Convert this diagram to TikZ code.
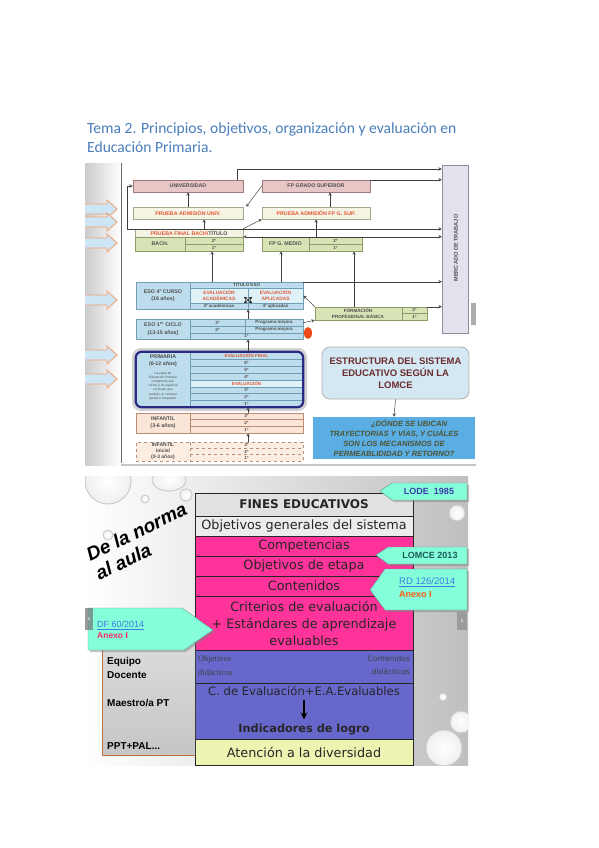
\documentclass[tikz,border=0pt]{standalone}
\usepackage{fontspec}
\setsansfont{Liberation Sans}
\newfontfamily\calibri{Carlito}
\newfontfamily\verdana{DejaVu Sans}
\newfontfamily\serifa{Liberation Serif}
\newcommand{\mini}{\sffamily\bfseries\fontsize{5.3}{6}\selectfont}
\newcommand{\micro}{\sffamily\bfseries\fontsize{4.5}{5}\selectfont}
\definecolor{titulo}{HTML}{4A7EBC}
\definecolor{rosa}{HTML}{E8C6C6}\definecolor{rosab}{HTML}{A07A7A}
\definecolor{crema}{HTML}{F5F3E4}\definecolor{cremab}{HTML}{A8A890}
\definecolor{oliva}{HTML}{D8E3B6}\definecolor{olivab}{HTML}{8C9A6C}
\definecolor{celeste}{HTML}{BDDDEC}\definecolor{celb}{HTML}{6F9DB4}
\definecolor{celclaro}{HTML}{DFF0F7}
\definecolor{melocoton}{HTML}{FBE5D6}\definecolor{melb}{HTML}{B98E74}
\definecolor{lavanda}{HTML}{E3E1EC}\definecolor{lavb}{HTML}{8E8C9E}
\definecolor{grisostxt}{HTML}{505050}\definecolor{rojotxt}{HTML}{E25A35}
\definecolor{marino}{HTML}{2A2A84}
\definecolor{estructura}{HTML}{D3E8F3}\definecolor{granate}{HTML}{6A2C2C}
\definecolor{azulpreg}{HTML}{5BAEE3}\definecolor{olivatxt}{HTML}{4E5434}
\definecolor{celflecha}{HTML}{CDE6F6}\definecolor{naranjaflecha}{HTML}{F2A070}
\definecolor{rojoelipse}{HTML}{EE4A1C}
\definecolor{grisfin}{HTML}{E1E1E1}\definecolor{grisobj}{HTML}{ECECEC}
\definecolor{fucsia}{HTML}{FF3399}\definecolor{azulcd}{HTML}{6767CC}
\definecolor{amarillo}{HTML}{EDF4B1}\definecolor{aguamar}{HTML}{85FFD9}
\definecolor{azullode}{HTML}{3B3BAA}\definecolor{verdelomce}{HTML}{1D5A5A}
\definecolor{azulenl}{HTML}{3F7BE0}\definecolor{naranja}{HTML}{FF5A14}
\definecolor{rosaenl}{HTML}{FF2A6A}\definecolor{marronpanel}{HTML}{C0703C}
\begin{document}
\begin{tikzpicture}[x=1pt,y=-1pt,>=stealth,
  caja/.style={draw=#1,line width=0.5pt,inner sep=0pt},
  flecha/.style={->,line width=0.5pt,draw=black!75},
  txt/.style={inner sep=0pt,font=\mini,text=grisostxt},
  txtr/.style={inner sep=0pt,font=\mini,text=rojotxt},
  fila/.style={inner sep=0pt,font=\micro,text=grisostxt},
  filar/.style={inner sep=0pt,font=\micro,text=rojotxt},
  nube/.style={fill=aguamar,draw=aguamar!60!black,line width=0.3pt},
  sombra/.style={fill=black!50,opacity=0.45},
  franja/.style={draw=black!85,line width=0.7pt,minimum width=218,inner sep=0pt,
    font=\verdana\fontsize{12.8}{15}\selectfont,text=black!85},
  gota/.style={draw=gray!40,line width=1pt,inner color=white,outer color=gray!12}]
\fill[white] (0,0) rectangle (599,848);
\useasboundingbox (0,0) rectangle (599,848);
% título
\node[anchor=base west,inner sep=0pt,font=\calibri\fontsize{15.6}{19}\selectfont,text=titulo] (tit1) at (87,133) {Tema 2. Principios, objetivos, organización y evaluación en};
\node[anchor=base west,inner sep=0pt,font=\calibri\fontsize{15.6}{19}\selectfont,text=titulo] (tit2) at (87,153) {Educación Primaria.};

% ---- imagen superior: estructura del sistema
\fill[white] (85,163) rectangle (476,467);
\shade[left color=gray!40,right color=white] (85,163) rectangle (121,465);
\draw[black!60,line width=0.8pt] (121,163) -- (121,463);
\draw[gray!45,line width=1.5pt] (121,465) -- (476,465);
\foreach \y in {209,222,243,300,355,379}
  \filldraw[fill=celflecha,draw=naranjaflecha,line width=0.8pt]
    (85,\y-5) -- (107,\y-5) -- (107,\y-9) -- (117,\y) -- (107,\y+9) -- (107,\y+5) -- (85,\y+5);

% universidad, FP superior y pruebas
\node[caja=rosab,fill=rosa,minimum width=110,minimum height=12,txt] (univ) at (188,186) {UNIVERSIDAD};
\node[caja=rosab,fill=rosa,minimum width=108,minimum height=12,txt] (fpgs) at (316,186) {FP GRADO SUPERIOR};
\node[caja=cremab,fill=crema,minimum width=110,minimum height=12,txtr] (padm) at (188,213) {PRUEBA ADMISIÓN UNIV.};
\node[caja=cremab,fill=crema,minimum width=108,minimum height=12,txtr] (padmfp) at (316,213) {PRUEBA ADMISIÓN FP G. SUP.};
\node[caja=cremab,fill=crema,minimum width=108,minimum height=8,txtr] (pfinal) at (189,233) {PRUEBA FINAL BACH/\textcolor{grisostxt}{TÍTULO}};
% bachillerato y FP medio
\node[caja=olivab,fill=oliva,minimum width=108,minimum height=14] (bach) at (189,244) {};
\draw[olivab,line width=0.5pt] (185,237) -- (185,251) (185,244) -- (243,244);
\node[txt] (bachT) at (160,244) {BACH.};
\node[fila] (bach2) at (214,240.5) {2º};
\node[fila] (bach1) at (214,247.5) {1º};
\node[caja=olivab,fill=oliva,minimum width=100,minimum height=14] (fpgm) at (312,244) {};
\draw[olivab,line width=0.5pt] (309,237) -- (309,251) (309,244) -- (362,244);
\node[txt] (fpgmT) at (285.5,244) {FP G. MEDIO};
\node[fila] (fpgm2) at (335.5,240.5) {2º};
\node[fila] (fpgm1) at (335.5,247.5) {1º};
% mercado de trabajo
\node[caja=lavb,fill=lavanda,minimum width=26,minimum height=168] (merc) at (455,249) {};
\node[rotate=90,txt,font=\sffamily\bfseries\fontsize{5.6}{6}\selectfont] (mercT) at (456,248) {MERCADO DE TRABAJO};
\fill[gray!65] (471,303) rectangle (476,325);

% ESO 4º
\node[caja=celb,fill=celeste,minimum width=167,minimum height=27] (eso4) at (219.5,295.5) {};
\fill[celclaro] (190.3,288.3) rectangle (302.7,302.7);
\draw[celb,line width=0.5pt] (190,282) -- (190,309) (190,288) -- (303,288) (190,303) -- (303,303) (248,288) -- (248,309);
\node[txt,align=center,font=\sffamily\bfseries\fontsize{5.3}{7}\selectfont] (eso4T) at (163,295.5) {ESO 4º CURSO\\(16 años)};
\node[fila] (titeso) at (246.5,285) {TÍTULO ESO};
\node[filar,align=center,font=\sffamily\bfseries\fontsize{4.8}{6}\selectfont] (evacad) at (219,295.5) {EVALUACIÓN\\ACADÉMICAS};
\node[filar,align=center,font=\sffamily\bfseries\fontsize{4.8}{6}\selectfont] (evapl) at (275.5,295.5) {EVALUACIÓN\\APLICADAS};
\node[fila] (acad) at (219,306) {4º académicas};
\node[fila] (apli) at (275.5,306) {4º aplicadas};
\draw[<->,line width=0.4pt] (244,297) -- (252,303);
\draw[<->,line width=0.4pt] (244,303) -- (252,297);
% ESO 1er ciclo
\node[caja=celb,fill=celeste,minimum width=167,minimum height=20] (eso1) at (219.5,329) {};
\draw[celb,line width=0.5pt] (190,319) -- (190,339) (190,326) -- (303,326) (190,333) -- (303,333) (245,319) -- (245,333);
\node[txt,align=center,font=\sffamily\bfseries\fontsize{5.3}{7.5}\selectfont] (eso1T) at (163,329) {ESO 1\textsuperscript{er} CICLO\\(13-15 años)};
\node[fila] (e3) at (217.5,322.5) {3º};
\node[fila] (pm3) at (274,322.5) {Programa mejora};
\node[fila] (e2) at (217.5,329.5) {2º};
\node[fila] (pm2) at (274,329.5) {Programa mejora};
\node[fila] (e1) at (246.5,336) {1º};
\fill[rojoelipse] (308,333) ellipse (4 and 6);
% FP básica
\node[caja=olivab,fill=oliva,minimum width=112,minimum height=13] (fpb) at (371,313.5) {};
\draw[olivab,line width=0.5pt] (402,307) -- (402,320) (402,313.5) -- (427,313.5);
\node[fila,align=center,font=\sffamily\bfseries\fontsize{4.6}{6.5}\selectfont] (fpbT) at (358,313.5) {FORMACIÓN\\PROFESIONAL BÁSICA};
\node[fila] (fpb2) at (414.5,310.3) {2º};
\node[fila] (fpb1) at (414.5,316.8) {1º};

% Primaria
\draw[gray!50,line width=4pt,rounded corners=7,opacity=0.7] (134,350) rectangle (305,409);
\node[caja=celb,fill=celeste,minimum width=167,minimum height=55,rounded corners=6] (prim) at (219.5,379.5) {};
\fill[celclaro] (190.3,380.3) rectangle (302,386.7);
\draw[celb,line width=0.5pt] (190,352) -- (190,407);
\foreach \y in {359,366,373,380,387,393.5,400}
  \draw[celb,line width=0.5pt] (190,\y) -- (303,\y);
\foreach \t/\y [count=\i] in {6º/362.5,5º/369.5,4º/376.5,3º/390.2,2º/396.7,1º/403.5}
  \node[fila] (curso\i) at (246.5,\y) {\t};
\node[filar] (evfin) at (246.5,355.5) {EVALUACIÓN FINAL};
\node[filar] (evprim) at (246.5,383.5) {EVALUACIÓN};
\node[txt,align=center,font=\sffamily\bfseries\fontsize{5.3}{7}\selectfont] (primT) at (163,360.5) {PRIMARIA\\(6-12 años)};
\node[fila,align=center,font=\sffamily\fontsize{3.2}{4.1}\selectfont] (primD) at (163,386) {La etapa de\\Educación Primaria\\comprende seis\\cursos y se organiza\\en áreas, que\\tendrán un carácter\\global e integrador};
\draw[marino,line width=2.2pt,rounded corners=6] (prim.north west) rectangle (prim.south east);
% Infantil
\node[caja=melb,fill=melocoton,minimum width=167,minimum height=20] (inf) at (219.5,423) {};
\draw[melb,line width=0.5pt] (190,413) -- (190,433) (190,419.7) -- (303,419.7) (190,426.3) -- (303,426.3);
\node[txt,align=center,font=\sffamily\bfseries\fontsize{5.3}{7}\selectfont] (infT) at (163,423) {INFANTIL\\(3-6 años)};
\foreach \t/\y [count=\i] in {3º/416.3,2º/423,1º/429.7}
  \node[fila] (inf\i) at (246.5,\y) {\t};
\node[caja=melb,dashed,fill=melocoton!70,minimum width=167,minimum height=19] (infini) at (219.5,451.5) {};
\draw[melb,dashed,line width=0.5pt] (190,442) -- (190,461) (190,448.3) -- (303,448.3) (190,454.7) -- (303,454.7);
\node[txt,align=center,font=\sffamily\bfseries\fontsize{5}{6}\selectfont] (infiniT) at (163,451.5) {INFANTIL\\inicial\\(0-3 años)};
\foreach \t/\y [count=\i] in {3º/445.2,2º/451.5,1º/457.8}
  \node[fila] (ini\i) at (246.5,\y) {\t};

% cuadro de título y pregunta
\node[draw=gray!60,fill=estructura,rounded corners=8,line width=0.8pt,minimum width=147,minimum height=52,align=center,
  font=\sffamily\bfseries\fontsize{9.5}{12}\selectfont,text=granate] (estr) at (395.5,373) {ESTRUCTURA DEL SISTEMA\\EDUCATIVO SEGÚN LA\\LOMCE};
\node[fill=azulpreg,minimum width=162,minimum height=42,align=center,inner sep=0pt,
  font=\sffamily\bfseries\itshape\fontsize{7.6}{10}\selectfont,text=olivatxt] (preg) at (394,438) {\hspace*{30pt}¿DÓNDE SE UBICAN\\TRAYECTORIAS Y VÍAS, Y CUÁLES\\SON LOS MECANISMOS DE\\PERMEABLIDIDAD Y RETORNO?};

% conexiones
\coordinate (lazo) at (127,229);
\draw[flecha] (lazo) |- (univ.west);
\draw[flecha] (lazo) -- (lazo -| merc.west);
\draw[flecha] (univ.north -| 237,0) |- (merc.west |- 0,169);
\draw[flecha] (fpgs.north east) -- (fpgs.north east -| merc.west);
\draw[flecha] (padm.north) -- (univ.south);
\draw[flecha] (fpgs.west) -- ([xshift=3pt]padm.north east);
\draw[flecha] (padmfp.north -| 330,0) -- (fpgs.south -| 330,0);
\draw[flecha] (pfinal.north -| 204,0) -- (padm.south -| 204,0);
\draw[flecha] (pfinal.north east) -- (padmfp.south west);
\draw[flecha,<->] (bach.north east) -- (bach.north east -| merc.west);
\draw[flecha] (fpgm.north -| 316,0) -- (padmfp.south -| 316,0);
\draw[flecha] (eso4.north -| 212,0) -- (bach.south -| 212,0);
\draw[flecha] (eso4.north -| 281,0) -- (fpgm.south -| 281,0);
\draw[flecha] (fpb.north -| 354,0) -- (fpgm.south -| 354,0);
\draw[flecha] (eso4.north east) -- (eso4.north east -| merc.west);
\draw[flecha] (fpb.north west) -- (eso4.east);
\draw[flecha] ([yshift=-4pt]eso1.north east) -- (fpb.south west);
\draw[flecha] (fpb.north east) -- (fpb.north east -| merc.west);
\draw[flecha] (eso1.north -| 248,0) -- (eso4.south -| 248,0);
\draw[flecha] (prim.north -| 248,0) -- (eso1.south -| 248,0);
\draw[flecha] (inf.north -| 248,0) -- (prim.south -| 248,0);
\draw[flecha] (infini.north -| 248,0) -- (inf.south -| 248,0);
\draw[flecha] (estr.south) -- (preg.north);

% ---- imagen inferior: de la norma al aula
\begin{scope}
\clip (85,476) rectangle (468,765);
\shade[left color=white,right color=gray!50] (85,476) rectangle (468,765);
\shadedraw[gota] (108,481) circle (23);
\shadedraw[gota] (169,480) ellipse (17 and 11);
\shadedraw[gota] (145,499) circle (4);
\shadedraw[gota] (186,495) circle (6);
\shadedraw[gota] (108,535) circle (5);
\shadedraw[gota] (457,513) circle (8);
\shadedraw[gota] (443,697) circle (4);
\shadedraw[gota] (461,722) circle (11);
\shadedraw[gota] (444,748) circle (18);
\end{scope}
% tabla central
\node[franja,fill=grisfin,minimum height=23,font=\verdana\bfseries\fontsize{12}{14}\selectfont] (fines) at (304,504.5) {FINES EDUCATIVOS};
\node[franja,fill=grisobj,minimum height=20] (objgen) at (304,526) {Objetivos generales del sistema};
\node[franja,fill=fucsia,minimum height=20] (compet) at (304,546) {Competencias};
\node[franja,fill=fucsia,minimum height=20] (objet) at (304,566) {Objetivos de etapa};
\node[franja,fill=fucsia,minimum height=20] (conten) at (304,586) {Contenidos};
\node[franja,fill=fucsia,minimum height=54,align=center,font=\verdana\fontsize{12.8}{17}\selectfont] (criter) at (304,623) {Criterios de evaluación\\+ Estándares de aprendizaje\\evaluables};
\node[franja,fill=azulcd,minimum height=89] (didac) at (304,694.5) {};
\draw[black!85,line width=0.7pt] (didac.west |- 0,683) -- (didac.east |- 0,683);
\node[franja,fill=amarillo,minimum height=26] (atenc) at (304,752) {Atención a la diversidad};
\node[anchor=west,inner sep=0pt,align=left,font=\serifa\fontsize{8.5}{14}\selectfont,text=black!75] (objdid) at (198,666) {Objetivos\\didácticos};
\node[anchor=east,inner sep=0pt,align=right,font=\verdana\fontsize{7.5}{13}\selectfont,text=black!75] (condid) at (410,665.5) {Contenidos\\didácticos};
\node[inner sep=0pt,font=\verdana\fontsize{11.6}{13}\selectfont,text=black!85] (cevalu) at (304,691) {C. de Evaluación+E.A.Evaluables};
\node[inner sep=0pt,font=\verdana\bfseries\fontsize{11.3}{13}\selectfont,text=black!85] (indic) at (304,729) {Indicadores de logro};
\draw[->,line width=2pt,black] ([yshift=-4pt]cevalu.south) -- ([yshift=4pt]indic.north);
% panel izquierdo
\shade[top color=gray!28,bottom color=gray!45] (102,640) rectangle (195,755);
\draw[marronpanel,line width=1pt] (102,645) -- (102,755) -- (195,755);
\node[anchor=west,inner sep=0pt,align=left,font=\sffamily\bfseries\fontsize{10}{13.5}\selectfont] (equipo) at (107,668) {Equipo\\Docente};
\node[anchor=west,inner sep=0pt,font=\sffamily\bfseries\fontsize{10}{12}\selectfont] (maestro) at (107,703) {Maestro/a PT};
\node[anchor=west,inner sep=0pt,font=\sffamily\bfseries\fontsize{10}{12}\selectfont] (pptpal) at (107,746) {PPT+PAL...};
\node[rotate=25.7,align=left,inner sep=0pt,font=\sffamily\bfseries\itshape\fontsize{19}{21}\selectfont] (norma) at (141,541) {De la norma\\al aula};
% llamadas de la normativa
\fill[sombra] (382,493) -- (394,485) -- (469,485) -- (469,502) -- (394,502) -- cycle;
\filldraw[nube] (380,491) -- (392,483) -- (467,483) -- (467,500) -- (392,500) -- cycle;
\node[inner sep=0pt,font=\sffamily\bfseries\fontsize{9}{10}\selectfont,text=azullode] (lode) at (429,491.5) {LODE\ \ 1985};
\fill[sombra] (378,557) -- (390,549) -- (469,549) -- (469,566) -- (390,566) -- cycle;
\filldraw[nube] (376,555) -- (388,547) -- (467,547) -- (467,564) -- (388,564) -- cycle;
\node[inner sep=0pt,font=\sffamily\bfseries\fontsize{9}{10}\selectfont,text=verdelomce] (lomce) at (430,555.5) {LOMCE 2013};
\fill[sombra] (372,592) -- (387,571) -- (469,571) -- (469,612) -- (387,612) -- cycle;
\filldraw[nube] (370,590) -- (385,569) -- (467,569) -- (467,610) -- (385,610) -- cycle;
\node[anchor=west,inner sep=0pt,font=\sffamily\fontsize{9.5}{11}\selectfont,text=azulenl] (rd) at (399,582) {\underline{RD 126/2014}};
\node[anchor=west,inner sep=0pt,font=\sffamily\bfseries\fontsize{9}{10}\selectfont,text=naranja] (rdanexo) at (399,594) {Anexo I};
\fill[sombra] (90,610) -- (184,610) -- (215,632) -- (186,652) -- (90,652) -- cycle;
\filldraw[nube] (88,608) -- (182,608) -- (213,630) -- (184,650) -- (88,650) -- cycle;
\node[anchor=west,inner sep=0pt,font=\sffamily\fontsize{9}{10}\selectfont,text=azulenl] (df) at (97,625) {\underline{DF 60/2014}};
\node[anchor=west,inner sep=0pt,font=\sffamily\bfseries\fontsize{8.5}{10}\selectfont,text=rosaenl] (dfanexo) at (97,636) {Anexo I};
% botones de navegación
\fill[black!55,opacity=0.7] (85,608) rectangle (93,630);
\node[inner sep=0pt,text=white,font=\verdana\fontsize{8}{9}\selectfont] (navizq) at (89,619) {‹};
\fill[black!45,opacity=0.7] (457,612) rectangle (467,630);
\node[inner sep=0pt,text=white,font=\verdana\fontsize{8}{9}\selectfont] (navder) at (462,621) {›};
\end{tikzpicture}
\end{document}
